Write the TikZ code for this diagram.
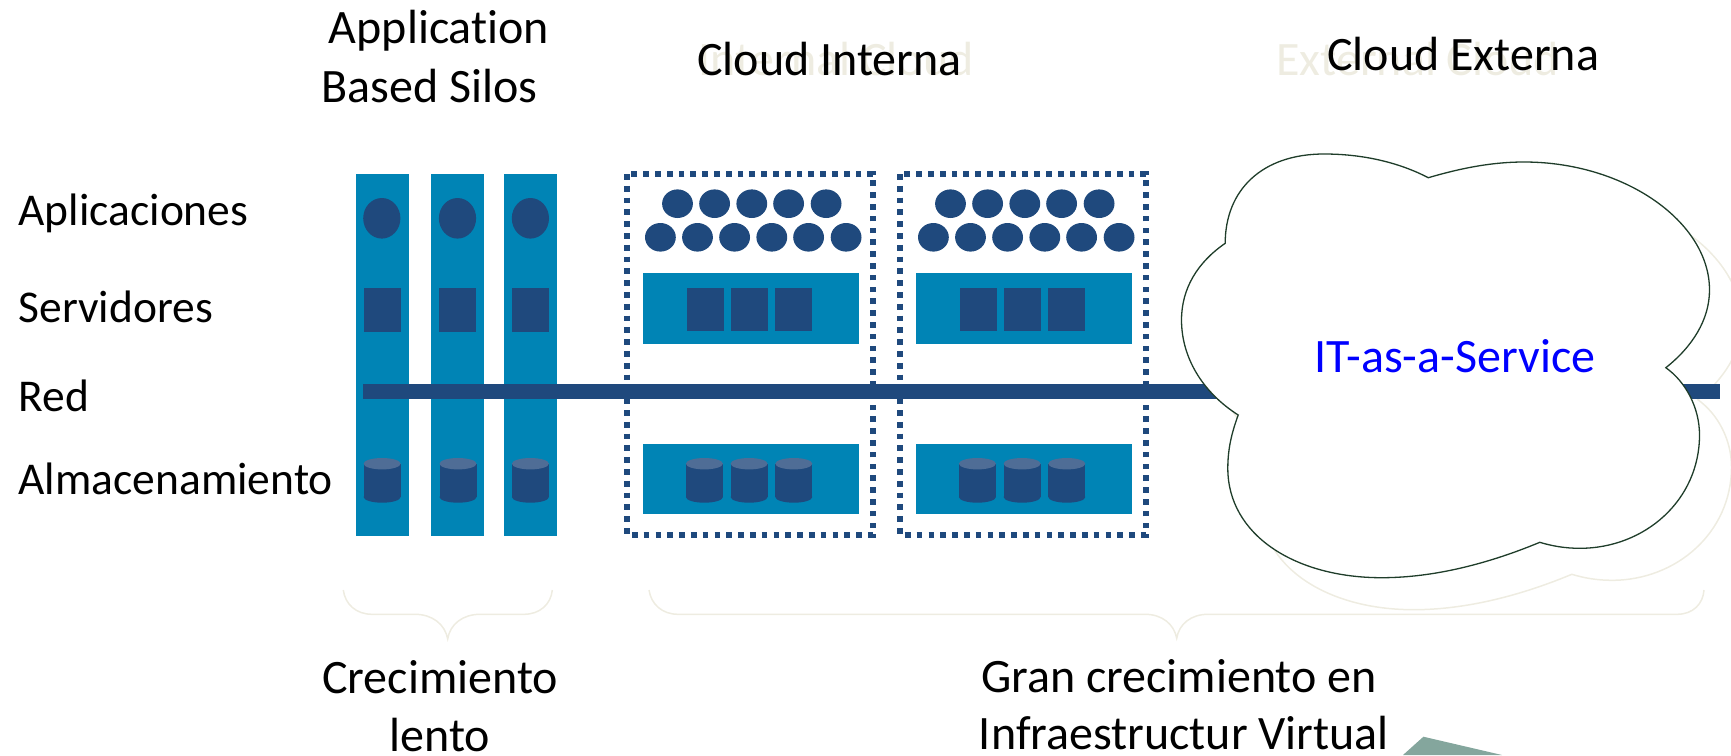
\documentclass[tikz,border=0pt]{standalone}
\usepackage{fontspec}
\setmainfont[Ligatures=NoCommon]{Carlito}
\usetikzlibrary{shapes.geometric}
\definecolor{bandblue}{HTML}{0084B5}
\definecolor{navy}{HTML}{1F497D}
\definecolor{drumtop}{HTML}{4F6D96}
\definecolor{paleline}{HTML}{EEECE1}
\definecolor{cloudline}{HTML}{1F3D2A}
\definecolor{wedge}{HTML}{84A69D}
\tikzstyle{band}=[fill=bandblue]
\tikzstyle{app dot}=[ellipse, fill=navy, minimum width=37.2pt, minimum height=40.6pt, inner sep=0pt]
\tikzstyle{small dot}=[ellipse, fill=navy, minimum width=30.8pt, minimum height=28.6pt, inner sep=0pt]
\tikzstyle{dotted box}=[draw=navy, line width=5.7pt, dash pattern=on 5.7pt off 6.1pt]
\tikzstyle{pale edge}=[draw=paleline, line width=1.5pt]
\tikzstyle{big text}=[font=\fontsize{48}{56}\selectfont, inner sep=0pt, anchor=base]
\tikzstyle{title text}=[big text, anchor=base west]
\tikzstyle{row text}=[font=\fontsize{45.5}{54}\selectfont, inner sep=0pt, anchor=base west]
\tikzset{drum/.pic={
	\fill[navy] (-18.5,-16.7) rectangle (18.5,16.6);
	\fill[navy] (0,16.6) ellipse[x radius=18.5, y radius=5.7];
	\fill[drumtop] (0,-16.7) ellipse[x radius=18.5, y radius=5.7];
}}
\newcommand{\cloudshape}{(1428.3,177.7) .. controls (1458,169) and (1490,162) .. (1524,162)
	.. controls (1625,162) and (1709.5,222) .. (1709.5,290)
	.. controls (1709.5,320) and (1692,347) .. (1665.8,367.7)
	.. controls (1686,382) and (1699.5,408) .. (1699.5,435)
	.. controls (1699.5,500) and (1645,548.3) .. (1579.8,548.3)
	.. controls (1565,548.3) and (1552,546) .. (1539.8,542.3)
	.. controls (1490,563) and (1435,577.7) .. (1381.6,577.7)
	.. controls (1295,577.7) and (1227.8,535) .. (1227.8,468.3)
	.. controls (1227.8,448) and (1232,432) .. (1238.2,415)
	.. controls (1202,392) and (1181.5,357) .. (1181.5,320)
	.. controls (1181.5,288) and (1198,262) .. (1225.2,243.3)
	.. controls (1225.2,190) and (1262,154) .. (1324,154)
	.. controls (1362,154) and (1398,162) .. (1428.3,177.7) -- cycle}
\begin{document}
\begin{tikzpicture}[x=1pt, y=-1pt]
	\useasboundingbox (0,0) rectangle (1731,755);
	\clip (0,0) rectangle (1731,755);
	\draw[pale edge, shift={(32,32)}] \cloudshape;
	\foreach \x in {356,431,504}
		\fill[band] (\x,174) rectangle (\x+53,536);
	\foreach \pos/\name in {{(381.8,218.3)/app1}, {(457.5,218.3)/app2}, {(530.4,218.3)/app3}}
		\node[app dot] (\name) at \pos {};
	\foreach \x in {364,439,512}
		\fill[navy] (\x,288) rectangle (\x+37,332);
	\foreach \x in {382.1,458,530.4}
		\pic at (\x,480.4) {drum};
	\foreach \off in {0,273} {
		\begin{scope}[xshift=\off pt]
			\path[dotted box] (627.1,174) rectangle (872.9,535);
			\foreach \x in {677.5,714.6,751.8,788.6,826.1}
				\node[small dot] at (\x,203.7) {};
			\foreach \x in {660.4,697.5,734.6,771.8,808.6,846.1}
				\node[small dot] at (\x,237.3) {};
			\fill[band] (642.9,273) rectangle (858.9,344);
			\fill[band] (642.9,444) rectangle (858.9,514);
			\foreach \x in {687.1,731.1,775}
				\fill[navy] (\x,288) rectangle (\x+37,331);
			\foreach \x in {704.4,749.1,793.8}
				\pic at (\x,480.4) {drum};
		\end{scope}
	}
	\fill[navy] (362.9,384) rectangle (1720,399);
	\draw[cloudline, line width=1.3pt, fill=white] \cloudshape;
	\draw[pale edge] (343.3,590) .. controls (345,604) and (356,614.3) .. (372,614.3) -- (415,614.3)
		.. controls (432,614.3) and (445,624) .. (447.7,639)
		.. controls (450,624) and (463,614.3) .. (480,614.3) -- (524,614.3)
		.. controls (540,614.3) and (551,604) .. (552.3,590);
	\draw[pale edge] (649,590) .. controls (651,604) and (662,614.3) .. (678,614.3) -- (1145,614.3)
		.. controls (1162,614.3) and (1174,624) .. (1176.7,638.3)
		.. controls (1179,624) and (1191,614.3) .. (1208,614.3) -- (1677,614.3)
		.. controls (1693,614.3) and (1703,604) .. (1704,590);
	\fill[wedge] (1423.4,736.7) -- (1502,755) -- (1403,755) -- cycle;
	\node[title text, text=paleline] (internal) at (698,75) {Internal Cloud};
	\node[title text, text=paleline] (external) at (1276,75) {External Cloud};
	\node[title text] (interna) at (697,75) {Cloud Interna};
	\node[title text] (externa) at (1327,70.7) {Cloud Externa};
	\node[big text] (application) at (439,43.3) {Application};
	\node[big text] (silos) at (429.5,102.7) {Based Silos};
	\foreach \pos/\name/\txt in {{(18.4,225.5)/aplicaciones/Aplicaciones}, {(18.4,322)/servidores/Servidores}, {(18.4,411)/red/Red}, {(18.4,494.5)/almacenamiento/Almacenamiento}}
		\node[row text] (\name) at \pos {\txt};
	\node[title text, text=blue] (service) at (1314.5,372.7) {IT-as-a-Service};
	\node[big text] (crecimiento) at (440,693) {Crecimiento};
	\node[big text] (lento) at (440,751) {lento};
	\node[big text] (gran) at (1179,692) {Gran crecimiento en};
	\node[big text] (infra) at (1184,749) {Infraestructur Virtual};
\end{tikzpicture}
\end{document}
